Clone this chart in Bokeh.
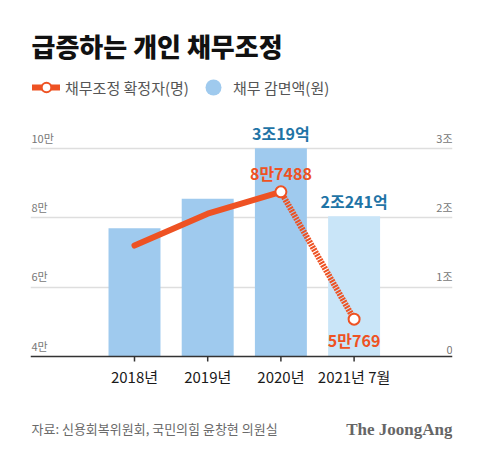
from bokeh.plotting import figure
from bokeh.models import (Range1d, Grid, FixedTicker, Label, Legend, LegendItem, Span)
from bokeh.core.properties import value
from bokeh.embed import file_html
from bokeh.resources import INLINE

# ---- data ----
categories = ["2018년", "2019년", "2020년", "2021년 7월"]
debt_people = [72000, 81200, 87488, 50769]          # 채무조정 확정자(명)
debt_relief_eok = [18500, 22750, 30019, 20241]      # 채무 감면액(억원)
people_labels = ["", "", "8만7488", "5만769"]
relief_labels = ["", "", "3조19억", "2조241억"]
left_ticks = [40000, 60000, 80000, 100000]
left_tick_labels = ["4만", "6만", "8만", "10만"]
right_ticks = [0, 10000, 20000, 30000]
right_tick_labels = ["0", "1조", "2조", "3조"]

FONT = "Noto Sans CJK KR"
FONT_BLACK = "Noto Sans CJK KR Black"
ORANGE = "#ee5223"
BAR = "#9fcaee"
BAR_LIGHT = "#c9e5f8"
bar_colors = [BAR, BAR, BAR, BAR_LIGHT]

W, H = 480, 466
FL, FR = 30, 452          # frame left/right (px)
BASE_Y, TOP_GRID_Y = 356, 148   # px of lowest / highest gridline
px_per_l = (BASE_Y - TOP_GRID_Y) / (left_ticks[-1] - left_ticks[0])
px_per_r = (BASE_Y - TOP_GRID_Y) / (right_ticks[-1] - right_ticks[0])

xs = list(range(len(categories)))
spacing = 73.2
x_start = -104 / spacing
x_end = x_start + (FR - FL) / spacing

y_start = left_ticks[0] - (H - BASE_Y) / px_per_l
y_end = left_ticks[0] + BASE_Y / px_per_l
yb_start = right_ticks[0] - (H - BASE_Y) / px_per_r
yb_end = right_ticks[0] + BASE_Y / px_per_r

p = figure(width=W, height=H, output_backend="svg", toolbar_location=None,
           x_range=Range1d(x_start, x_end), y_range=Range1d(y_start, y_end),
           x_axis_location=None, y_axis_location=None,
           min_border_left=FL, min_border_right=W - FR,
           min_border_top=0, min_border_bottom=0)
p.extra_y_ranges = {"bars": Range1d(yb_start, yb_end)}
p.outline_line_color = None
p.background_fill_color = "white"
p.border_fill_color = "white"
p.grid.visible = False

p.add_layout(Grid(dimension=1, ticker=FixedTicker(ticks=left_ticks[1:]),
                  grid_line_color="#dedede", grid_line_width=1.5))

# x tick marks (below baseline)
tick_len = 5 / px_per_l
p.segment(x0=xs, x1=xs, y0=[left_ticks[0]] * len(xs),
          y1=[left_ticks[0] - tick_len] * len(xs), line_color="#333333", line_width=1.5)

# bars
p.vbar(x=xs, top=debt_relief_eok, bottom=0, width=0.71, y_range_name="bars",
       fill_color=bar_colors, line_color=None)

# baseline axis line
p.add_layout(Span(location=left_ticks[0], dimension="width", line_color="#333333",
                  line_width=1.5))

# category labels
p.text(x=xs, y=[left_ticks[0]] * len(xs), text=categories, y_offset=20,
       text_align="center", text_baseline="middle", text_font=value(FONT),
       text_font_size="15px", text_color="#1a1a1a")

# lines
solid = p.line(x=xs[:3], y=debt_people[:3], line_color=ORANGE, line_width=6,
               line_cap="round", line_join="round")
p.line(x=xs[2:], y=debt_people[2:], line_color=ORANGE, line_width=6,
       line_dash="2 1")
pts = p.scatter(x=xs[2:], y=debt_people[2:], size=11, fill_color="white",
                line_color=ORANGE, line_width=2)

# axis tick labels inside plot
p.text(x=[x_start] * 4, y=left_ticks, text=left_tick_labels, x_offset=1, y_offset=-3,
       text_align="left", text_baseline="bottom", text_font=value(FONT),
       text_font_size="11px", text_color="#777777")
p.text(x=[x_end] * 4, y=right_ticks, text=right_tick_labels, y_offset=-3,
       y_range_name="bars", text_align="right", text_baseline="bottom",
       text_font=value(FONT), text_font_size="11px", text_color="#777777")

# value labels
p.text(x=xs, y=debt_relief_eok, text=relief_labels, y_range_name="bars", y_offset=-3,
       text_align="center", text_baseline="bottom", text_font=value(FONT),
       text_font_size="16px", text_font_style="bold", text_color="#1f74a6")
p.text(x=xs[:3], y=debt_people[:3], text=people_labels[:3], y_offset=-7,
       text_align="center", text_baseline="bottom", text_font=value(FONT),
       text_font_size="16px", text_font_style="bold", text_color=ORANGE)
p.text(x=xs[3:], y=debt_people[3:], text=people_labels[3:], y_offset=9,
       text_align="center", text_baseline="top", text_font=value(FONT),
       text_font_size="16px", text_font_style="bold", text_color=ORANGE)

# legends (bar swatch drawn as circle; NaN point so nothing shows in the plot)
bar_dummy = p.scatter(x=[xs[0]], y=[float("nan")], size=16, fill_color=BAR,
                      line_color=None, y_range_name="bars")
common = dict(orientation="horizontal", padding=0, margin=0, spacing=0,
              background_fill_alpha=0, border_line_color=None, label_text_font=FONT,
              label_text_font_size="15px", label_text_color="#555555")
legend1 = Legend(items=[LegendItem(label="채무조정 확정자(명)", renderers=[solid, pts])],
                 location=(2, H - 99), glyph_width=28, glyph_height=24,
                 label_height=24, label_standoff=5, **common)
legend2 = Legend(items=[LegendItem(label="채무 감면액(원)", renderers=[bar_dummy])],
                 location=(163, H - 107), glyph_width=40, glyph_height=40,
                 label_height=40, label_standoff=-5, **common)
p.add_layout(legend1, "center")
p.add_layout(legend2, "center")

# title and footer (frame-relative screen units, y up)
p.add_layout(Label(x=1, y=H - 45, x_units="screen", y_units="screen",
                   text="급증하는 개인 채무조정", text_font=FONT_BLACK, text_font_size="26px",
                   text_font_style="bold", text_color="#111111",
                   text_baseline="middle"))
p.add_layout(Label(x=1, y=H - 428, x_units="screen", y_units="screen",
                   text="자료: 신용회복위원회, 국민의힘 윤창현 의원실", text_font=FONT,
                   text_font_size="13px", text_color="#6a6a6a", text_baseline="middle"))
p.add_layout(Label(x=FR - FL, y=H - 429, x_units="screen", y_units="screen",
                   text="The JoongAng", text_font="Liberation Serif", text_font_size="17px",
                   text_font_style="bold", text_color="#666666", text_align="right",
                   text_baseline="middle"))

open("out.html", "w").write(file_html(p, INLINE))
